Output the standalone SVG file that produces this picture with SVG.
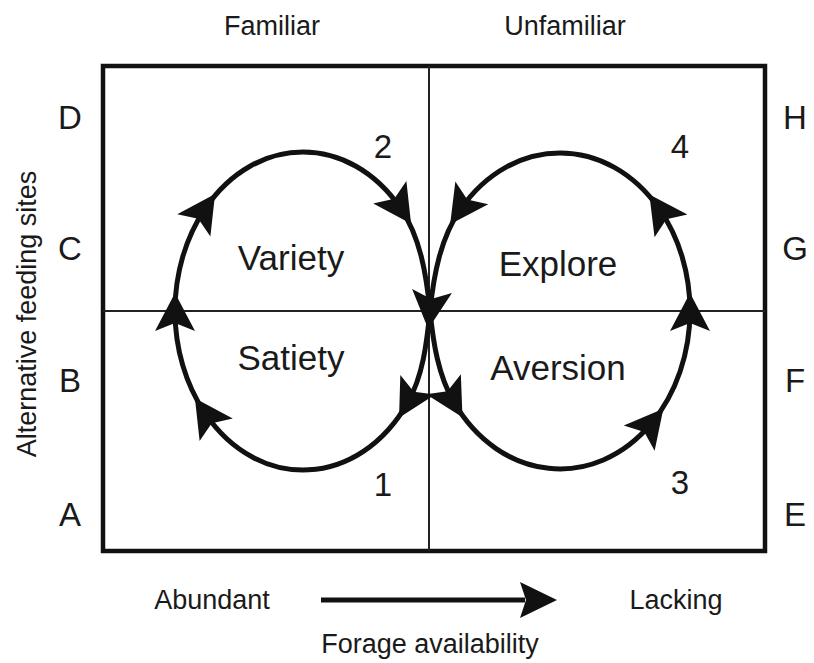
<svg xmlns="http://www.w3.org/2000/svg" width="814" height="663" viewBox="0 0 814 663">
<style>
text{font-family:"Liberation Sans",Arial,sans-serif;fill:#1a1a1a}
.ax{font-size:27px}
.lt{font-size:33px;text-anchor:middle}
.st{font-size:35px;text-anchor:middle}
.mid{text-anchor:middle}
.frame{fill:none;stroke:#111;stroke-width:4.5}
.grid{stroke:#222;stroke-width:2}
.loop{fill:none;stroke:#111;stroke-width:5}
</style>
<defs>
<marker id="ah" markerUnits="userSpaceOnUse" orient="auto" refX="20" refY="0" markerWidth="40" markerHeight="40" overflow="visible">
<path d="M38,0 L0,-20 L8,0 L0,20 Z" fill="#111"/>
</marker>
</defs>
<g id="frame">
<rect class="frame" x="103" y="66" width="662" height="485"/>
<line class="grid" x1="429" y1="66" x2="429" y2="551"/>
<line class="grid" x1="103" y1="311" x2="765" y2="311"/>
</g>
<g id="connectors">
<path class="loop" marker-mid="url(#ah)" d="M430,311 C433.3,343.3 438.2,375 453.5,401.6 C499.9,482 594.8,492.1 651.9,422.7 C676.3,393.1 690,352.9 690,311 C690,273.9 679.3,237.8 659.6,209.4 C607.6,134.2 512.4,134.2 460.4,209.4 C440.7,237.8 433.7,274.2 430,311 C426.7,343.3 423,375.5 407.9,402.2 C359.6,487.8 259.1,493.3 205,413.2 C185.7,384.6 175,348.4 175,311 C175,273.6 185.7,237.4 205,208.8 C256.2,133.1 349.8,133.1 401,208.8 C420.3,237.4 426.3,274.2 430,311"/>
<g id="axis-arrow">
<line x1="321" y1="600" x2="525" y2="600" stroke="#111" stroke-width="5"/>
<path d="M557,600 L520,582 L526,600 L520,618 Z" fill="#111"/>
</g>
</g>
<g id="header">
<text class="ax mid" x="272" y="35">Familiar</text>
<text class="ax mid" x="565" y="35">Unfamiliar</text>
</g>
<g id="rows-left">
<text class="lt" x="70" y="129">D</text>
<text class="lt" x="70" y="260">C</text>
<text class="lt" x="70" y="392">B</text>
<text class="lt" x="70" y="526">A</text>
</g>
<g id="rows-right">
<text class="lt" x="795" y="129">H</text>
<text class="lt" x="795" y="260">G</text>
<text class="lt" x="795" y="392">F</text>
<text class="lt" x="795" y="526">E</text>
</g>
<g id="numbers">
<text class="lt" x="383" y="158">2</text>
<text class="lt" x="680" y="158">4</text>
<text class="lt" x="383" y="496">1</text>
<text class="lt" x="680" y="494">3</text>
</g>
<g id="variety"><text class="st" x="291" y="270">Variety</text></g>
<g id="satiety"><text class="st" x="291" y="370">Satiety</text></g>
<g id="explore"><text class="st" x="558" y="276">Explore</text></g>
<g id="aversion"><text class="st" x="558" y="380">Aversion</text></g>
<text class="ax mid" transform="translate(36,314) rotate(-90)">Alternative feeding sites</text>
<text class="ax mid" x="212" y="609">Abundant</text>
<text class="ax mid" x="676" y="609">Lacking</text>
<text class="ax mid" x="430" y="653">Forage availability</text>
</svg>
